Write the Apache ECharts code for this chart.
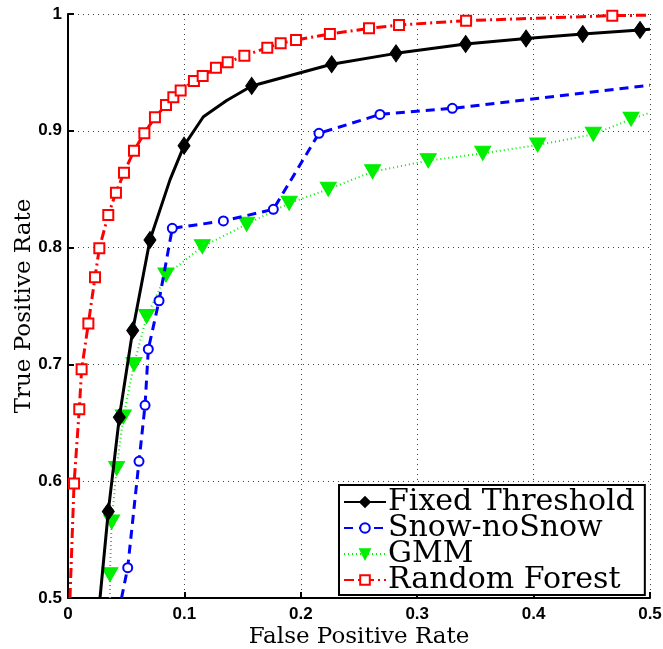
<!DOCTYPE html>
<html><head><meta charset="utf-8">
<script src="https://cdn.jsdelivr.net/npm/echarts@6/dist/echarts.min.js"></script>
<style>html,body{margin:0;padding:0;background:#fff}#c{width:663px;height:649px}</style>
</head><body><div id="c"></div>
<script>
const xTicks = [0, 0.1, 0.2, 0.3, 0.4, 0.5];
const yTicks = [0.5, 0.6, 0.7, 0.8, 0.9, 1];
// [FPR, TPR, marker shown 1/0]
const fixedThreshold = [
  [0.0275,0.5,0],[0.0346,0.574,1],[0.0441,0.6547,1],[0.0556,0.729,1],[0.0704,0.8065,1],
  [0.0876,0.858,0],[0.0997,0.8873,1],[0.1163,0.912,0],[0.1363,0.926,0],[0.1578,0.9384,1],
  [0.2265,0.957,1],[0.2818,0.9663,1],[0.3416,0.9743,1],[0.3935,0.979,1],[0.4422,0.9829,1],
  [0.4914,0.9863,1],[0.5,0.9869,0]
];
const snowNoSnow = [
  [0.046,0.5,0],[0.0513,0.526,1],[0.061,0.617,1],[0.0662,0.665,1],[0.069,0.713,1],
  [0.0782,0.7545,1],[0.0896,0.8165,1],[0.1335,0.8228,1],[0.1764,0.8328,1],[0.2156,0.8978,1],
  [0.268,0.914,1],[0.3302,0.9192,1],[0.5,0.939,0]
];
const gmm = [
  [0.036,0.5,0],[0.036,0.52,1],[0.0375,0.565,1],[0.0418,0.611,1],[0.0475,0.655,1],
  [0.0567,0.70,1],[0.0676,0.741,1],[0.0842,0.7765,1],[0.1154,0.8008,1],[0.1535,0.82,1],
  [0.19,0.838,1],[0.2236,0.85,1],[0.2617,0.865,1],[0.3095,0.8744,1],[0.3563,0.8807,1],
  [0.4035,0.8878,1],[0.4513,0.897,1],[0.4837,0.91,1],[0.5,0.9155,0]
];
const randomForest = [
  [0.0017,0.5,0],[0.0052,0.598,1],[0.0097,0.6616,1],[0.0117,0.6958,1],[0.0175,0.735,1],
  [0.0232,0.7746,1],[0.0269,0.7994,1],[0.0346,0.828,1],[0.0412,0.847,1],[0.0481,0.864,1],
  [0.0567,0.883,1],[0.0656,0.898,1],[0.0747,0.9115,1],[0.0842,0.922,1],[0.0905,0.9287,1],
  [0.0968,0.9344,1],[0.1082,0.9426,1],[0.1157,0.947,1],[0.1271,0.954,1],[0.1372,0.9586,1],
  [0.1515,0.9643,1],[0.1712,0.9712,1],[0.1827,0.975,1],[0.1959,0.9777,1],[0.225,0.9829,1],
  [0.2586,0.9877,1],[0.2844,0.9906,1],[0.342,0.9943,1],[0.4676,0.9986,1],[0.5,0.999,0]
];
const seriesNames = ['Fixed Threshold', 'Snow-noSnow', 'GMM', 'Random Forest'];

function toData(arr){
  return arr.map(p => p[2] ? {value:[p[0],p[1]]} : {value:[p[0],p[1]], symbol:'none'});
}
const serif = 'DejaVu Serif';
const chart = echarts.init(document.getElementById('c'), null, {renderer:'canvas'});
chart.setOption({
  animation:false,
  backgroundColor:'#fff',
  grid:{left:68, top:14, right:13, bottom:51, containLabel:false, outerBoundsMode:'none'},
  xAxis:{
    type:'value', min:0, max:0.5, interval:0.1,
    name:'False Positive Rate', nameLocation:'middle', nameGap:28, nameMoveOverlap:false,
    nameTextStyle:{fontFamily:serif, fontSize:23, color:'#000'},
    axisLine:{show:true, lineStyle:{color:'#000', width:2}},
    axisTick:{show:true, inside:true, length:6, lineStyle:{color:'#000', width:2}},
    axisLabel:{fontFamily:'Liberation Sans', fontWeight:'bold', fontSize:17, color:'#000', margin:8,
      formatter: v => String(xTicks.find(t => Math.abs(t-v)<1e-9) ?? v)},
    splitLine:{show:true, lineStyle:{color:'#444', type:[1,4], width:1}}
  },
  yAxis:{
    type:'value', min:0.5, max:1, interval:0.1,
    name:'True Positive Rate', nameLocation:'middle', nameGap:32, nameMoveOverlap:false,
    nameTextStyle:{fontFamily:serif, fontSize:23, color:'#000'},
    axisLine:{show:true, lineStyle:{color:'#000', width:2}},
    axisTick:{show:true, inside:true, length:6, lineStyle:{color:'#000', width:2}},
    axisLabel:{fontFamily:'Liberation Sans', fontWeight:'bold', fontSize:17, color:'#000', margin:6,
      formatter: v => String(yTicks.find(t => Math.abs(t-v)<1e-9) ?? v)},
    splitLine:{show:true, lineStyle:{color:'#444', type:[1,4], width:1}}
  },
  legend:{
    orient:'vertical', left:339, top:485,
    data:seriesNames,
    itemGap:-4, itemWidth:42, itemHeight:12,
    backgroundColor:'#fff', borderColor:'#000', borderWidth:2, borderRadius:0,
    padding:[2,10,0,4],
    textStyle:{fontFamily:serif, fontSize:30, color:'#000', padding:[0,0,0,-3]}
  },
  series:[
    {name:seriesNames[0], type:'line', data:toData(fixedThreshold), z:4,
      symbol:'diamond', symbolSize:[12,17], showAllSymbol:true,
      lineStyle:{color:'#000', width:3},
      itemStyle:{color:'#000', borderColor:'#000', borderWidth:1}},
    {name:seriesNames[1], type:'line', data:toData(snowNoSnow), z:3,
      symbol:'emptyCircle', symbolSize:9, showAllSymbol:true,
      lineStyle:{color:'#0000ff', width:3, type:[9,6]},
      itemStyle:{color:'#0000ff', borderColor:'#0000ff', borderWidth:2.5}},
    {name:seriesNames[2], type:'line', data:toData(gmm), z:2,
      symbol:'triangle', symbolRotate:180, symbolSize:[16,14], showAllSymbol:true,
      lineStyle:{color:'#00ee00', width:2, type:[1,3]},
      itemStyle:{color:'#00ee00', borderColor:'#00ee00', borderWidth:1}},
    {name:seriesNames[3], type:'line', data:toData(randomForest), z:5,
      symbol:'emptyRect', symbolSize:10, showAllSymbol:true,
      lineStyle:{color:'#ff0000', width:3, type:[10,4,2,4]},
      itemStyle:{color:'#ff0000', borderColor:'#ff0000', borderWidth:2.5}}
  ]
});
</script></body></html>
